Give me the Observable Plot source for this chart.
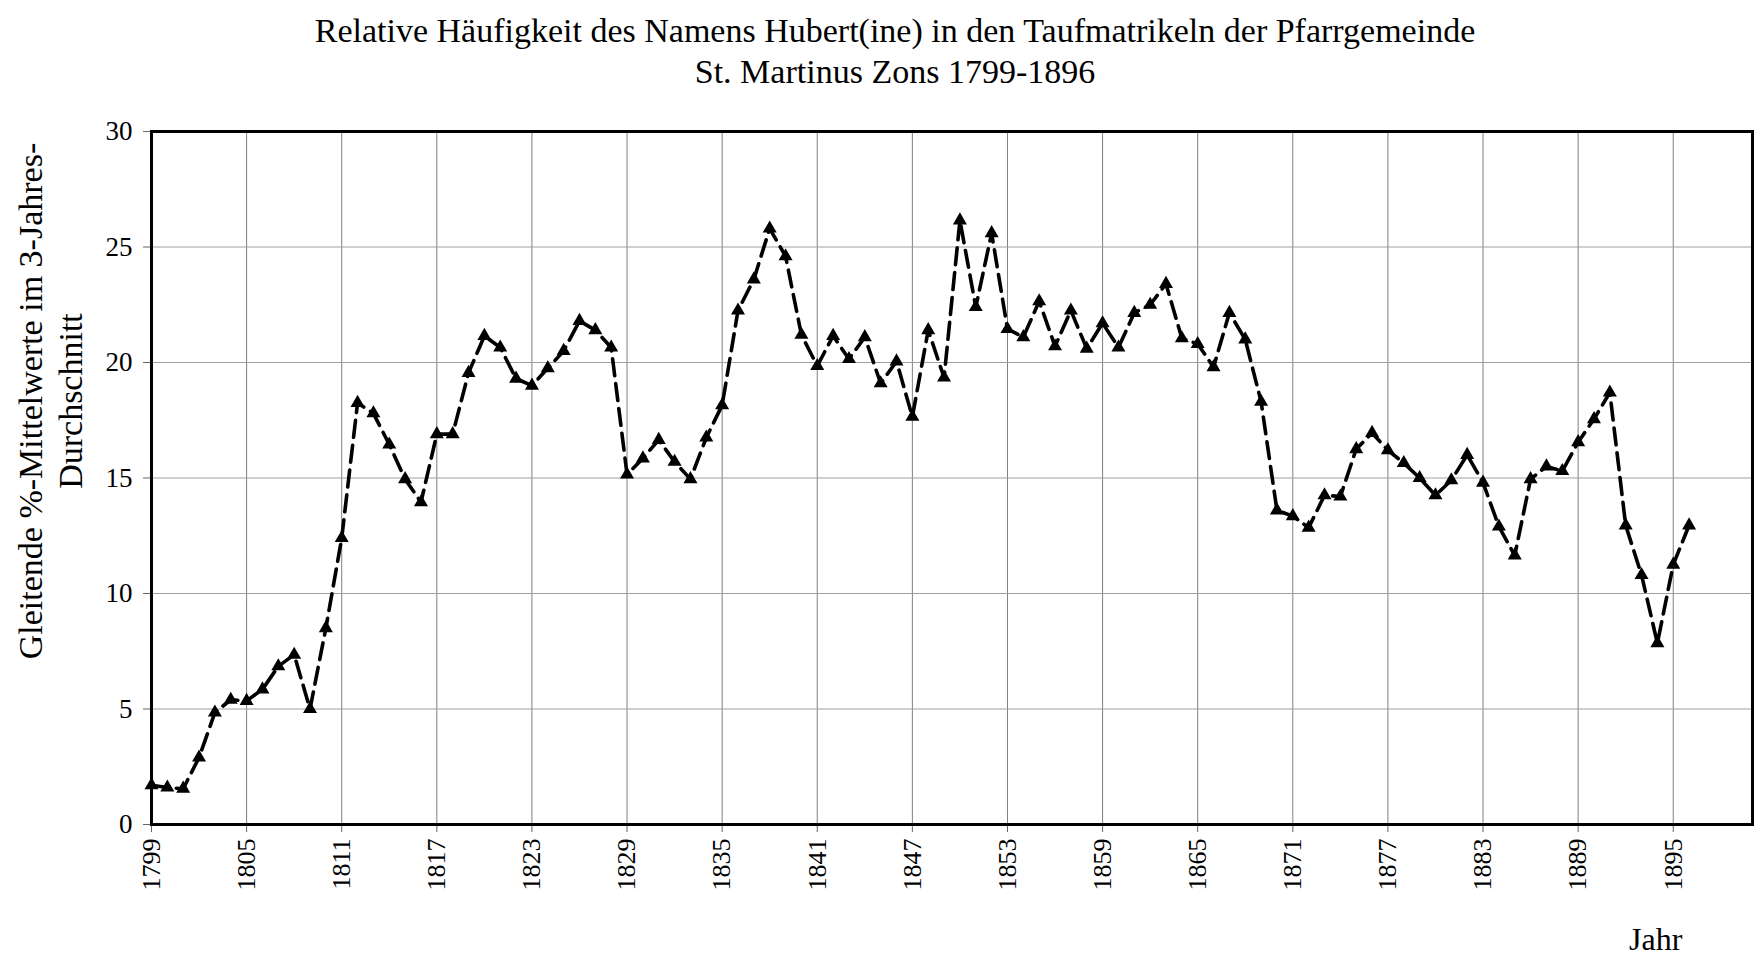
<!DOCTYPE html>
<html><head><meta charset="utf-8">
<script src="https://cdn.jsdelivr.net/npm/d3@7"></script>
<script src="https://cdn.jsdelivr.net/npm/@observablehq/plot@0.6"></script>
<style>
body{margin:0;background:#fff;}
#wrap{position:relative;width:1758px;height:970px;font-family:"Liberation Serif","Times New Roman",serif;color:#000;}
#title{position:absolute;top:10px;left:0;width:1790px;text-align:center;font-size:34px;line-height:41px;}
#ylab{position:absolute;left:51px;top:401px;width:700px;margin-left:-350px;margin-top:-40px;height:80px;text-align:center;font-size:34px;line-height:40px;transform:rotate(-90deg);}
#xlab{position:absolute;left:1629px;top:921px;font-size:32px;line-height:36px;}
#chart{position:absolute;left:0;top:0;}
</style></head><body>
<div id="wrap">
<div id="chart"></div>
<div id="title">Relative Häufigkeit des Namens Hubert(ine) in den Taufmatrikeln der Pfarrgemeinde<br>St. Martinus Zons 1799-1896</div>
<div id="ylab">Gleitende %-Mittelwerte im 3-Jahres-<br>Durchschnitt</div>
<div id="xlab">Jahr</div>
</div>
<script>
const years = [1799,1800,1801,1802,1803,1804,1805,1806,1807,1808,1809,1810,1811,1812,1813,1814,1815,1816,1817,1818,1819,
1820,1821,1822,1823,1824,1825,1826,1827,1828,1829,1830,1831,1832,1833,1834,1835,1836,1837,1838,1839,
1840,1841,1842,1843,1844,1845,1846,1847,1848,1849,1850,1851,1852,1853,1854,1855,1856,1857,1858,1859,
1860,1861,1862,1863,1864,1865,1866,1867,1868,1869,1870,1871,1872,1873,1874,1875,1876,1877,1878,1879,
1880,1881,1882,1883,1884,1885,1886,1887,1888,1889,1890,1891,1892,1893,1894,1895,1896];
const values = [1.7,1.6,1.55,2.9,4.85,5.4,5.35,5.85,6.85,7.35,5.0,8.5,12.4,18.25,17.8,16.45,14.95,13.95,16.9,16.9,19.55,
21.15,20.65,19.3,19.0,19.75,20.5,21.8,21.4,20.65,15.15,15.85,16.65,15.7,14.95,16.75,18.15,22.25,23.6,25.8,24.6,
21.2,19.85,21.15,20.15,21.1,19.1,20.05,17.65,21.4,19.35,26.15,22.4,25.6,21.45,21.1,22.65,20.7,22.25,20.6,21.7,
20.65,22.15,22.5,23.4,21.05,20.8,19.8,22.15,21.0,18.3,13.6,13.35,12.85,14.25,14.2,16.25,16.95,16.2,15.65,15.0,
14.25,14.9,16.0,14.8,12.9,11.65,14.95,15.5,15.3,16.55,17.55,18.7,12.95,10.8,7.85,11.25,12.95];
const xTicks = [1799,1805,1811,1817,1823,1829,1835,1841,1847,1853,1859,1865,1871,1877,1883,1889,1895];
const yTicks = [0,5,10,15,20,25,30];

const data = years.map((year, i) => ({year, value: values[i]}));

const chart = Plot.plot({
  width: 1758, height: 970,
  marginTop: 131, marginBottom: 146, marginLeft: 151, marginRight: 6,
  style: {fontFamily: '"Liberation Serif","Times New Roman",serif', fontSize: "26px", color: "#000", background: "transparent", overflow: "visible"},
  x: {domain: [1799, 1900], label: null},
  y: {domain: [0, 30], label: null},
  marks: [
    Plot.gridX(xTicks, {stroke: "#808080", strokeOpacity: 1, strokeWidth: 1}),
    Plot.gridY(yTicks, {stroke: "#a0a0a0", strokeOpacity: 1, strokeWidth: 1}),
    Plot.axisX(xTicks, {tickFormat: d => String(d), tickRotate: -90, tickSize: 8, tickPadding: 6, label: null, fontSize: 26, stroke: "#666"}),
    Plot.axisY(yTicks, {tickSize: 8, tickPadding: 11, label: null, fontSize: 27, stroke: "#666"}),
    Plot.lineY(data, {x: "year", y: "value", stroke: "#000", strokeWidth: 3.6, strokeDasharray: "17,8"}),
    Plot.dot(data, {x: "year", y: "value", symbol: "triangle", fill: "#000", r: 5.2}),
    Plot.frame({stroke: "#000", strokeWidth: 3})
  ]
});
document.getElementById("chart").appendChild(chart);
</script>
</body></html>
